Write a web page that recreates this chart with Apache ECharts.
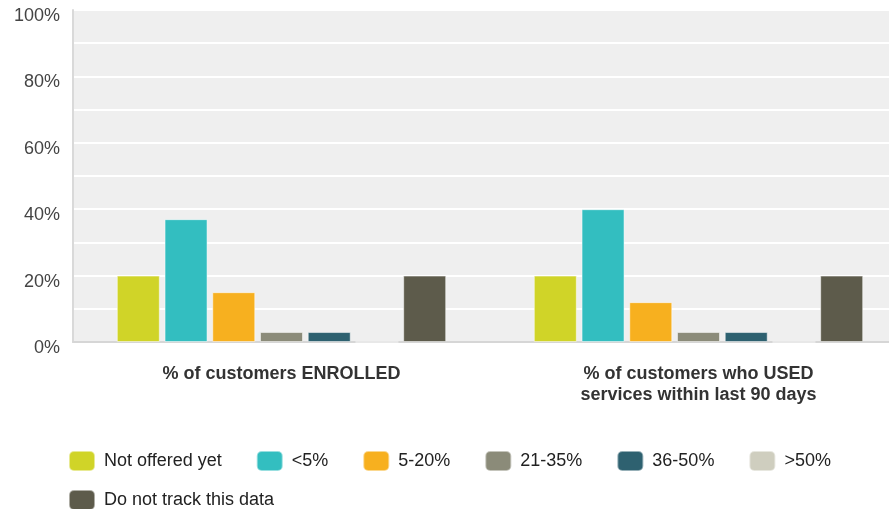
<!DOCTYPE html>
<html>
<head>
<meta charset="utf-8">
<script src="https://cdn.jsdelivr.net/npm/echarts@6/dist/echarts.min.js"></script>
<style>
  html, body { margin: 0; padding: 0; background: #ffffff; }
  #chart { width: 889px; height: 509px; }
</style>
</head>
<body>
<div id="chart"></div>
<script>
// Survey groups on the x axis
const categories = [
  '% of customers ENROLLED',
  '% of customers who USED\nservices within last 90 days'
];

// Share of respondents (%) per answer bucket, one value per group
const notOfferedYet = [20, 20];
const under5 = [37, 40];
const from5to20 = [15, 12];
const from21to35 = [3, 3];
const from36to50 = [3, 3];
const over50 = [0, 0];
const doNotTrack = [20, 20];

const seriesNames = ['Not offered yet', '<5%', '5-20%', '21-35%', '36-50%', '>50%', 'Do not track this data'];
const seriesValues = [notOfferedYet, under5, from5to20, from21to35, from36to50, over50, doNotTrack];
const seriesColors = ['#D0D428', '#33BEC0', '#F7B01F', '#8B8B79', '#2E6170', '#CFCEBF', '#5D5B4B'];

const chart = echarts.init(document.getElementById('chart'), null, { renderer: 'canvas' });

const fontFamily = 'Liberation Sans, Arial, sans-serif';
const legendText = { fontFamily, fontSize: 18, color: '#222', padding: [0, 0, 0, 4] };

chart.setOption({
  animation: false,
  grid: {
    left: 73, top: 10, width: 834, bottom: 167,
    outerBoundsMode: 'none',
    containLabel: false,
    show: true, backgroundColor: '#EFEFEF', borderWidth: 0
  },
  legend: [
    {
      data: seriesNames.slice(0, 6),
      left: 68, top: 450, padding: 0,
      itemWidth: 26, itemHeight: 20, itemGap: 34,
      icon: 'roundRect',
      textStyle: legendText
    },
    {
      data: seriesNames.slice(6),
      left: 68, top: 489, padding: 0,
      itemWidth: 26, itemHeight: 20, itemGap: 34,
      icon: 'roundRect',
      textStyle: legendText
    }
  ],
  xAxis: {
    type: 'category',
    data: categories,
    axisTick: { show: false },
    axisLine: { show: true, lineStyle: { color: '#D6D6D6', width: 2 } },
    axisLabel: {
      margin: 22,
      fontFamily,
      fontSize: 18,
      fontWeight: 'bold',
      color: '#333',
      lineHeight: 21,
      interval: 0
    }
  },
  yAxis: {
    type: 'value',
    min: 0, max: 100, interval: 10,
    axisLine: { show: true, lineStyle: { color: '#D9D9D9', width: 2 } },
    axisTick: { show: false },
    splitLine: { show: true, lineStyle: { color: '#FFFFFF', width: 2 } },
    axisLabel: {
      margin: 13,
      verticalAlign: 'top',
      lineHeight: 12,
      fontFamily,
      fontSize: 18,
      color: '#444',
      formatter: v => (v % 20 === 0 ? v + '%' : '')
    }
  },
  series: seriesNames.map((name, i) => ({
    name,
    type: 'bar',
    data: seriesValues[i],
    barWidth: 43,
    barGap: '11%',
    itemStyle: { color: seriesColors[i], borderColor: 'rgba(255,255,255,0.5)', borderWidth: 1 }
  }))
});
</script>
</body>
</html>
